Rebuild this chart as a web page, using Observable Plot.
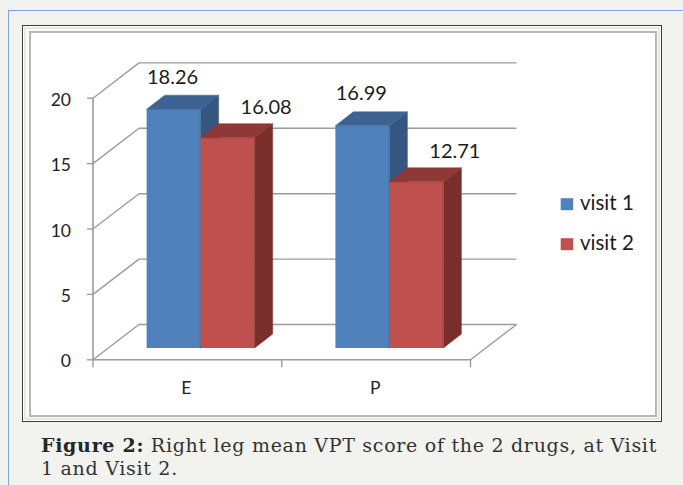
<!DOCTYPE html>
<html>
<head>
<meta charset="utf-8">
<script src="https://cdn.jsdelivr.net/npm/d3@7"></script>
<script src="https://cdn.jsdelivr.net/npm/@observablehq/plot@0.6"></script>
<style>
  html, body { margin: 0; padding: 0; background: #f2f2ee; }
  #page { position: relative; width: 683px; height: 485px; overflow: hidden; }
  .abs { position: absolute; }
</style>
</head>
<body>
<div id="page">
  <div class="abs" style="left:8px;top:10px;width:700px;height:500px;border-top:1.5px solid #79a6e2;border-left:1.5px solid #79a6e2;"></div>
  <div class="abs" style="left:22px;top:25px;width:640px;height:397px;box-sizing:border-box;border:1.3px solid #3c3c3c;background:#fbfbfb;box-shadow:inset 0 0 0 1.5px #fff, inset 0 0 0 2.5px #d0d0d0;"></div>
  <div class="abs" style="left:29px;top:31px;width:628px;height:386px;box-sizing:border-box;border:2px solid #b6b6b6;background:#fff;"></div>
  <div id="chart" class="abs" style="left:0;top:0;width:683px;"></div>
  <svg id="legend" class="abs" style="left:0;top:0;" width="683" height="485"></svg>
  <div id="cap" class="abs" style="left:41px;top:433.5px;font-family:'DejaVu Serif',serif;font-size:19px;line-height:23.3px;color:#333;white-space:nowrap;">
    <span id="l1"><b style="color:#262626">Figure 2:</b> Right leg mean VPT score of the 2 drugs, at Visit</span><br><span id="l2">1 and Visit 2.</span>
  </div>
</div>
<script>
// ---- data ----
const drugs = ["E", "P"];
const seriesNames = ["visit 1", "visit 2"];
const visit1 = [18.26, 16.99];
const visit2 = [16.08, 12.71];
const yTicks = [0, 5, 10, 15, 20];
const yMax = 20;

// ---- layout / style ----
const W = 683, H = 430;
const ML = 92.5, MR = 213, MT = 97.7, MB = 70.7;
const kx = (W - ML - MR) / drugs.length;   // px per x unit
const ky = (H - MT - MB) / yMax;           // px per y unit
const wall = {x: 46 / kx, y: 35.3 / ky};   // depth of the 3D box
const depth = {x: 18 / kx, y: 14 / ky};    // depth of each bar
const shift = {dx: 14.7, dy: -11.3};       // bar plane offset (px)
const barW = 54 / kx;
const gridColor = "#9c9c9c";
const palette = [
  {front: "#4f81bd", side: "#34567f", top: "#3c6394", labelDx: -1.6, labelDy: -26},
  {front: "#c0504d", side: "#7a2e2c", top: "#8f3836", labelDx: 38, labelDy: -24.5}
];

const series = [visit1, visit2].map((vals, s) => vals.map((v, i) => {
  const xl = i + 0.5 - barW + s * barW - 0.005;
  return {drug: drugs[i], series: seriesNames[s], v, xl, xr: xl + barW, xc: xl + barW / 2, id: drugs[i] + s};
}));

const sidePts = series.map(bs => bs.flatMap(b => [
  {id: b.id, x: b.xr, y1: 0, y2: b.v},
  {id: b.id, x: b.xr + depth.x, y1: depth.y, y2: b.v + depth.y}
]));
const topPts = series.map(bs => bs.flatMap(b => [
  {id: b.id, y: b.v, x1: b.xl, x2: b.xr},
  {id: b.id, y: b.v + depth.y, x1: b.xl + depth.x, x2: b.xr + depth.x}
]));

const xEdges = d3.range(drugs.length + 1);

const barMarks = series.flatMap((bs, s) => {
  const p = palette[s];
  return [
    Plot.rect(bs, {x1: "xl", x2: "xr", y1: d => 0, y2: "v", fill: p.front, dx: shift.dx, dy: shift.dy}),
    Plot.area(sidePts[s], {x1: "x", y1: "y1", y2: "y2", z: "id", fill: p.side, stroke: p.side, strokeWidth: 0.5, dx: shift.dx, dy: shift.dy}),
    Plot.area(topPts[s], {x1: "x1", x2: "x2", y1: "y", z: "id", fill: p.top, stroke: p.top, strokeWidth: 0.5, dx: shift.dx, dy: shift.dy})
  ];
});

const labelMarks = series.map((bs, s) => Plot.text(bs, {
  x: "xc", y: "v", text: d => d.v.toFixed(2),
  dx: shift.dx + palette[s].labelDx, dy: shift.dy + palette[s].labelDy,
  lineAnchor: "bottom", textAnchor: "middle",
  fontSize: 20, fontFamily: "Lato", fill: "#1c1c1c"
}));

const chart = Plot.plot({
  width: W, height: H,
  marginLeft: ML, marginRight: MR, marginTop: MT, marginBottom: MB,
  x: {type: "linear", domain: [0, drugs.length], axis: null},
  y: {type: "linear", domain: [0, yMax], axis: null},
  style: {background: "transparent", overflow: "visible", fontFamily: "Lato"},
  marks: [
    // back wall gridlines
    Plot.link(yTicks, {x1: d => wall.x, y1: d => d + wall.y, x2: d => drugs.length + wall.x, y2: d => d + wall.y, stroke: gridColor, strokeWidth: 1.4}),
    // left wall diagonals
    Plot.link(yTicks, {x1: d => 0, y1: d => d, x2: d => wall.x, y2: d => d + wall.y, stroke: gridColor, strokeWidth: 1.4}),
    // floor right edge
    Plot.link([0], {x1: d => drugs.length, y1: d => 0, x2: d => drugs.length + wall.x, y2: d => wall.y, stroke: gridColor, strokeWidth: 1.4}),
    // floor front edge (x axis)
    Plot.link([0], {x1: d => 0, y1: d => 0, x2: d => drugs.length, y2: d => 0, stroke: gridColor, strokeWidth: 1.6}),
    // y axis line
    Plot.link([0], {x1: d => 0, y1: d => 0, x2: d => 0, y2: d => yMax, stroke: gridColor, strokeWidth: 1.6}),
    // y ticks
    Plot.link(yTicks, {x1: d => -6 / kx, y1: d => d, x2: d => 0, y2: d => d, stroke: gridColor, strokeWidth: 1.4}),
    // x ticks
    Plot.link(xEdges, {x1: d => d, y1: d => 0, x2: d => d, y2: d => -7.5 / ky, stroke: gridColor, strokeWidth: 1.4}),
    // y tick labels
    Plot.text(yTicks, {x: d => 0, y: d => d, text: d => String(d), textAnchor: "end", dx: -22, dy: 2, fontSize: 17.5, fontFamily: "Lato", fill: "#222"}),
    // category labels
    Plot.text(drugs, {x: (d, i) => i + 0.5, y: d => 0, text: d => d, dx: -1, dy: 29, fontSize: 17.5, fontFamily: "Lato", fill: "#222"}),
    ...barMarks,
    ...labelMarks
  ]
});
document.getElementById("chart").appendChild(chart);

// legend
const lg = d3.select("#legend");
const legendItems = seriesNames.map((name, s) => ({name, color: palette[s].front}));
legendItems.forEach((it, s) => {
  const base = 210 + s * 40;
  lg.append("rect").attr("x", 560.7).attr("y", base - 11.8).attr("width", 12.5).attr("height", 12)
    .attr("fill", it.color);
  lg.append("text").attr("x", 580).attr("y", base).attr("font-family", "Lato").attr("font-size", 20.5)
    .attr("fill", "#1c1c1c").text(it.name);
});

// caption width fit
const l1 = document.getElementById("l1"), l2 = document.getElementById("l2");
const w1 = l1.getBoundingClientRect().width;
const ls = (616 - w1) / l1.textContent.length;
l1.style.letterSpacing = ls + "px";
l2.style.letterSpacing = ls + "px";
</script>
</body>
</html>
